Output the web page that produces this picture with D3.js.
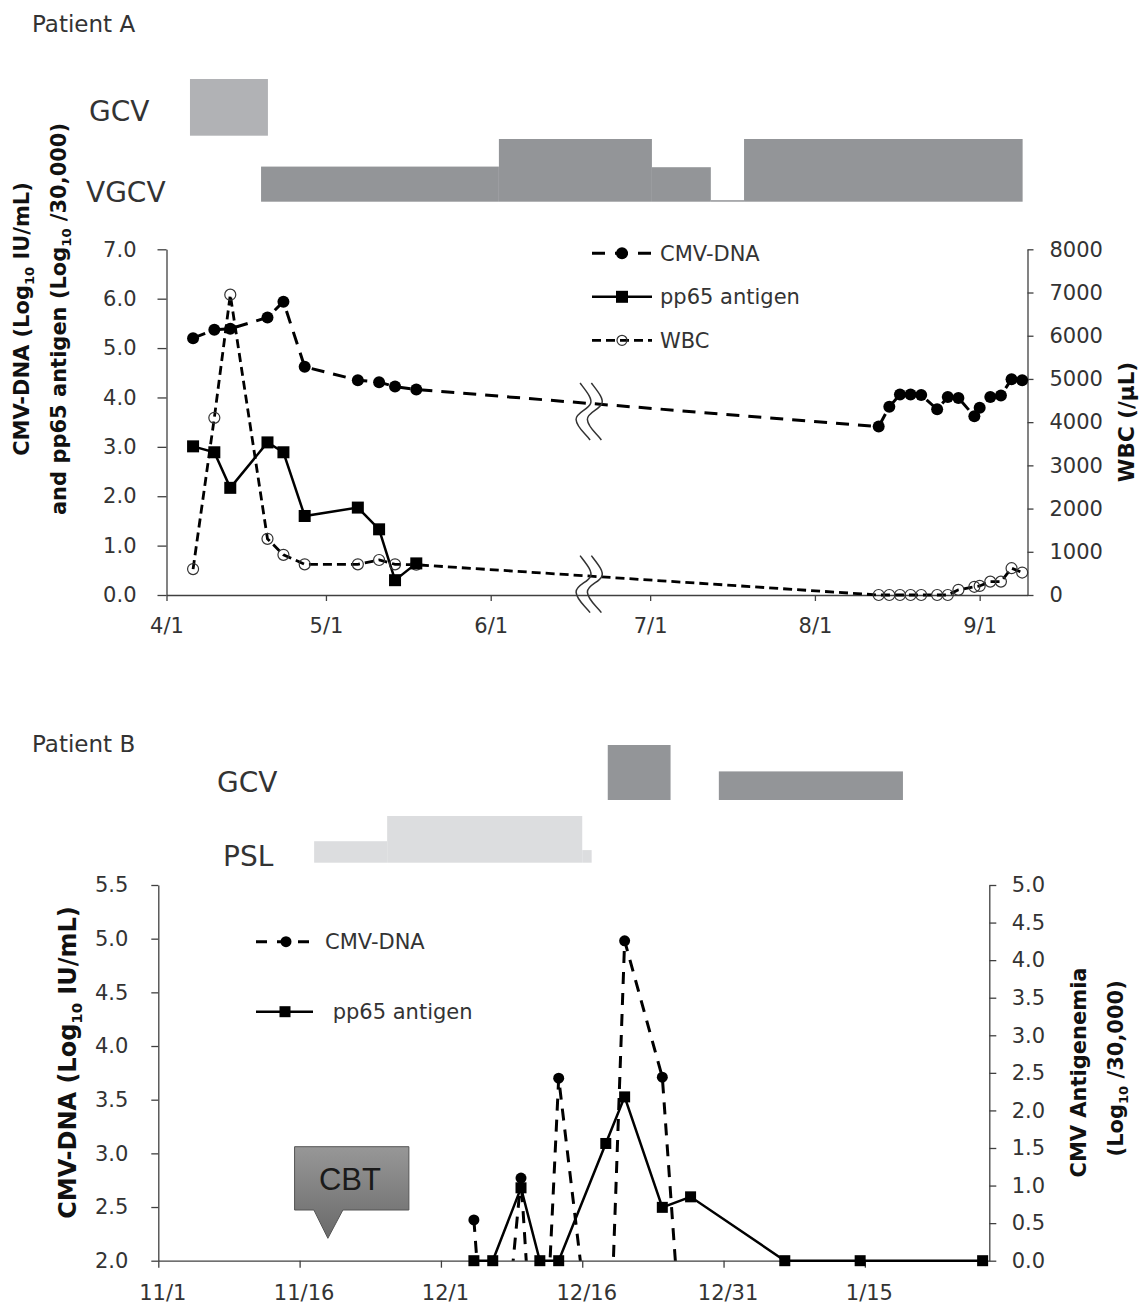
<!DOCTYPE html>
<html>
<head>
<meta charset="utf-8">
<script src="https://cdn.jsdelivr.net/npm/d3@7"></script>
<style>
  body { margin: 0; background: #fff; }
  svg text { font-family: "DejaVu Sans", Verdana, sans-serif; fill: #333; }
  svg text.title { font-weight: bold; fill: #111; }
</style>
</head>
<body>
<svg width="1148" height="1306"></svg>
<script>
//* ---------- Patient A data ----------
const aEarlyDates = ["2012-04-06", "2012-04-10", "2012-04-13", "2012-04-20", "2012-04-23",
	"2012-04-27", "2012-05-07", "2012-05-11", "2012-05-14", "2012-05-18"];
const aLateDates = ["2012-08-13", "2012-08-15", "2012-08-17", "2012-08-19", "2012-08-21",
	"2012-08-24", "2012-08-26", "2012-08-28", "2012-08-31", "2012-09-01", "2012-09-03",
	"2012-09-05", "2012-09-07", "2012-09-09"];
const aCmv = [5.2, 5.37, 5.39, 5.62, 5.94, 4.62, 4.35, 4.31, 4.22, 4.16,
	3.41, 3.81, 4.06, 4.06, 4.05, 3.76, 4.01, 3.99, 3.62, 3.79, 4.01, 4.04, 4.37, 4.35];
const aPp65 = [3.01, 2.89, 2.17, 3.09, 2.89, 1.6, 1.77, 1.33, 0.3, 0.64];
const aWbc = [600, 4100, 6950, 1300, 930, 710, 710, 810, 710, 700,
	0, 0, 0, 0, 0, 0, 0, 120, 190, 210, 310, 310, 620, 520];
const aTicksX = ["2012-04-01", "2012-05-01", "2012-06-01", "2012-07-01", "2012-08-01", "2012-09-01"];
const aTicksL = [0, 1, 2, 3, 4, 5, 6, 7];
const aTicksR = [0, 1000, 2000, 3000, 4000, 5000, 6000, 7000, 8000];
const aGcv = [{ start: "2012-04-05 10:00", end: "2012-04-20 02:00", dose: 1 }];
const aVgcv = [
	{ start: "2012-04-18 19:00", end: "2012-06-02 13:00", dose: 0.56 },
	{ start: "2012-06-02 13:00", end: "2012-07-01 08:00", dose: 1 },
	{ start: "2012-07-01 08:00", end: "2012-07-12 10:00", dose: 0.55 },
	{ start: "2012-07-12 10:00", end: "2012-07-18 16:00", dose: 0 },
	{ start: "2012-07-18 16:00", end: "2012-09-09 02:00", dose: 1 },
];
const aBreakDate = "2012-06-19 19:00";

//* ---------- Patient B data ----------
const bDates = ["2011-12-04", "2011-12-06", "2011-12-09", "2011-12-11", "2011-12-13", "2011-12-18",
	"2011-12-20", "2011-12-24", "2011-12-27", "2012-01-06", "2012-01-14", "2012-01-27"];
const bCmv = [2.38, 0, 2.77, 0, 3.7, 0, 4.98, 3.71, 0, 0, 0, 0];
const bPp65 = [0, 0, 0.97, 0, 0, 1.56, 2.18, 0.71, 0.85, 0, 0, 0];
const bTicksX = ["2011-11-01", "2011-11-16", "2011-12-01", "2011-12-16", "2011-12-31", "2012-01-15"];
const bTicksL = [2, 2.5, 3, 3.5, 4, 4.5, 5, 5.5];
const bTicksR = [0, 0.5, 1, 1.5, 2, 2.5, 3, 3.5, 4, 4.5, 5];
const bGcv = [
	{ start: "2011-12-18 17:00", end: "2011-12-25 09:00", dose: 1 },
	{ start: "2011-12-30 12:00", end: "2012-01-19 01:00", dose: 0.52 },
];
const bPsl = [
	{ start: "2011-11-17 13:00", end: "2011-11-25 07:00", dose: 0.46 },
	{ start: "2011-11-25 07:00", end: "2011-12-16 00:00", dose: 1 },
	{ start: "2011-12-16 00:00", end: "2011-12-17 00:00", dose: 0.27 },
];
const cbtDate = "2011-11-18 12:00";

//* ---------- helpers ----------
const parseDay = d3.timeParse("%Y-%m-%d"),
	parseHour = d3.timeParse("%Y-%m-%d %H:%M");
const toDate = (s) => (s.length > 10 ? parseHour(s) : parseDay(s));
const svg = d3.select("svg");

function drawBars(rows, x, baseline, full, color) {
	const h = d3.scaleLinear().domain([0, 1]).range([0, full]);
	svg.append("g")
		.selectAll("rect")
		.data(rows)
		.join("rect")
		.attr("x", (d) => x(toDate(d.start)))
		.attr("width", (d) => x(toDate(d.end)) - x(toDate(d.start)))
		.attr("y", (d) => baseline - Math.max(h(d.dose), 1.5))
		.attr("height", (d) => Math.max(h(d.dose), 1.5))
		.attr("fill", color);
}

function label(x, y, txt, size) {
	svg.append("text").attr("x", x).attr("y", y).style("font-size", size + "px").text(txt);
}

// rotated title with a subscript "10"
function title(x, y, parts, size) {
	const t = svg.append("text")
		.attr("class", "title")
		.attr("text-anchor", "middle")
		.attr("transform", `translate(${x},${y}) rotate(-90)`)
		.style("font-size", size + "px");
	parts.forEach((p) => {
		if (p.sub) {
			t.append("tspan").attr("dy", size * 0.25).style("font-size", size * 0.62 + "px").text(p.sub);
		} else {
			t.append("tspan").attr("dy", p.after ? -size * 0.25 : 0).text(p.text);
		}
	});
}

function styleAxis(g, size) {
	g.attr("font-size", size);
	g.select(".domain").attr("stroke", "#404040").attr("stroke-width", 1.3);
	g.selectAll(".tick line").attr("stroke", "#404040").attr("stroke-width", 1.3);
	g.selectAll(".tick text").attr("fill", "#333");
}

function squares(data, x, y, size) {
	svg.append("g")
		.selectAll("rect")
		.data(data)
		.join("rect")
		.attr("x", (d) => x(d) - size / 2)
		.attr("y", (d) => y(d) - size / 2)
		.attr("width", size)
		.attr("height", size)
		.attr("fill", "#000");
}

//* ======================= Patient A =======================
const xA = d3.scaleTime().domain([toDate("2012-04-01"), toDate("2012-09-10")]).range([166.5, 1027.5]);
const yA = d3.scaleLinear().domain([0, 7]).range([595, 249.3]);
const yAw = d3.scaleLinear().domain([0, 8000]).range([595, 249.3]);

label(32, 31.5, "Patient A", 23);
label(89, 120.5, "GCV", 28);
label(86, 201.5, "VGCV", 28);
drawBars(aGcv, xA, 135.7, 56.7, "#b1b2b5");
drawBars(aVgcv, xA, 201.7, 62.7, "#939598");

const aAll = aEarlyDates.concat(aLateDates).map(toDate);
const cmvA = aAll.map((d, i) => ({ date: d, v: aCmv[i] }));
const wbcA = aAll.map((d, i) => ({ date: d, v: aWbc[i] }));
const pp65A = aEarlyDates.map((s, i) => ({ date: toDate(s), v: aPp65[i] }));

svg.append("g").attr("transform", "translate(0,595)")
	.call(d3.axisBottom(xA).tickValues(aTicksX.map(toDate)).tickFormat(d3.timeFormat("%-m/%-d"))
		.tickSize(6).tickPadding(17).tickSizeOuter(0))
	.call((g) => styleAxis(g, 21));
svg.append("g").attr("transform", "translate(166.5,0)")
	.call(d3.axisLeft(yA).tickValues(aTicksL).tickFormat(d3.format(".1f")).tickSize(9).tickPadding(21).tickSizeOuter(0))
	.call((g) => styleAxis(g, 21));
svg.append("g").attr("transform", "translate(1027.5,0)")
	.call(d3.axisRight(yAw).tickValues(aTicksR).tickFormat(d3.format("d")).tickSize(6).tickPadding(16).tickSizeOuter(0))
	.call((g) => styleAxis(g, 21));

title(29, 319, [{ text: "CMV-DNA (Log" }, { sub: "10" }, { text: " IU/mL)", after: true }], 21);
title(66, 319, [{ text: "and pp65 antigen (Log" }, { sub: "10" }, { text: " /30,000)", after: true }], 21);
title(1134, 422, [{ text: "WBC (/μL)" }], 21.5);

const lineA = (y) => d3.line().x((d) => xA(d.date)).y((d) => y(d.v));
svg.append("path").datum(wbcA).attr("d", lineA(yAw)).attr("fill", "none")
	.attr("stroke", "#000").attr("stroke-width", 2.8).attr("stroke-dasharray", "9,5");
svg.append("path").datum(cmvA).attr("d", lineA(yA)).attr("fill", "none")
	.attr("stroke", "#000").attr("stroke-width", 3).attr("stroke-dasharray", "13,9");
svg.append("path").datum(pp65A).attr("d", lineA(yA)).attr("fill", "none")
	.attr("stroke", "#000").attr("stroke-width", 2.5);

svg.append("g").selectAll("circle").data(wbcA).join("circle")
	.attr("cx", (d) => xA(d.date)).attr("cy", (d) => yAw(d.v)).attr("r", 5.5)
	.attr("fill", "none").attr("stroke", "#333").attr("stroke-width", 1.2);
svg.append("g").selectAll("circle").data(cmvA).join("circle")
	.attr("cx", (d) => xA(d.date)).attr("cy", (d) => yA(d.v)).attr("r", 6).attr("fill", "#000");
squares(pp65A, (d) => xA(d.date), (d) => yA(d.v), 12);

//* axis-break marks sitting on the two long connecting lines
const breakPath = "M -10.5,-20.5 C -4,-12 2,-5 0,0 C -2,6 -15,9 -14.5,16 C -14,24 -5,30 -0.5,36.5";
function yAtDate(series, y, date) {
	const i = d3.bisector((d) => d.date).left(series, date);
	const a = series[i - 1], b = series[i];
	const t = (date - a.date) / (b.date - a.date);
	return y(a.v) + t * (y(b.v) - y(a.v));
}
const bd = toDate(aBreakDate);
[yAtDate(cmvA, yA, bd), yAtDate(wbcA, yAw, bd)].forEach((by) => {
	[0, 11.3].forEach((dx) => {
		svg.append("path").attr("d", breakPath)
			.attr("transform", `translate(${xA(bd) + dx},${by})`)
			.attr("fill", "none").attr("stroke", "#333").attr("stroke-width", 1.5);
	});
});

//* legend A
const legA = [
	{ name: "CMV-DNA", dash: "13,10", w: 3, mark: "dot" },
	{ name: "pp65 antigen", dash: null, w: 2.5, mark: "square" },
	{ name: "WBC", dash: "9,5", w: 2.8, mark: "open" },
];
legA.forEach((l, i) => {
	const y = 253.3 + i * 43.5;
	svg.append("line").attr("x1", 592).attr("x2", 652).attr("y1", y).attr("y2", y)
		.attr("stroke", "#000").attr("stroke-width", l.w).attr("stroke-dasharray", l.dash);
	if (l.mark === "dot") svg.append("circle").attr("cx", 622).attr("cy", y).attr("r", 6).attr("fill", "#000");
	if (l.mark === "square") svg.append("rect").attr("x", 616).attr("y", y - 6).attr("width", 12).attr("height", 12);
	if (l.mark === "open") svg.append("circle").attr("cx", 622).attr("cy", y).attr("r", 5)
		.attr("fill", "none").attr("stroke", "#333").attr("stroke-width", 1.2);
	svg.append("text").attr("x", 660).attr("y", y).attr("dy", "0.36em").style("font-size", "21px").text(l.name);
});

//* ======================= Patient B =======================
const xB = d3.scaleTime().domain([toDate("2011-11-01"), toDate("2012-01-28 05:00")]).range([158.3, 989.3]);
const yB = d3.scaleLinear().domain([2, 5.5]).range([1260.7, 885]);
const yBr = d3.scaleLinear().domain([0, 5]).range([1260.7, 885]);
// measurement days sit in the middle of their day slot
const xMid = (d) => xB(d3.timeHour.offset(d, 12));

label(32, 752, "Patient B", 23);
label(217, 792, "GCV", 28);
label(223, 866, "PSL", 28);
drawBars(bGcv, xB, 800, 55, "#939598");
drawBars(bPsl, xB, 862.7, 46.7, "#dcdddf");

const cmvB = bDates.map((s, i) => ({ date: toDate(s), v: bCmv[i] }));
const pp65B = bDates.map((s, i) => ({ date: toDate(s), v: bPp65[i] }));

svg.append("g").attr("transform", "translate(0,1260.7)")
	.call(d3.axisBottom(xB).tickValues(bTicksX.map(toDate)).tickFormat(d3.timeFormat("%-m/%-d"))
		.tickSize(7).tickPadding(17.4).tickSizeOuter(0))
	.call((g) => styleAxis(g, 21))
	.call((g) => g.selectAll(".tick text").attr("dx", 4));
svg.append("g").attr("transform", "translate(158.3,0)")
	.call(d3.axisLeft(yB).tickValues(bTicksL).tickFormat(d3.format(".1f")).tickSize(7).tickPadding(23).tickSizeOuter(0))
	.call((g) => styleAxis(g, 21));
svg.append("g").attr("transform", "translate(989.3,0)")
	.call(d3.axisRight(yBr).tickValues(bTicksR).tickFormat(d3.format(".1f")).tickSize(7).tickPadding(15.4).tickSizeOuter(0))
	.call((g) => styleAxis(g, 21));

title(76, 1062.5, [{ text: "CMV-DNA (Log" }, { sub: "10" }, { text: " IU/mL)", after: true }], 24);
title(1085.5, 1072.5, [{ text: "CMV Antigenemia" }], 21);
title(1123, 1068.3, [{ text: "(Log" }, { sub: "10" }, { text: "  /30,000)", after: true }], 21);

// undetectable DNA values fall below the axis; clip them to the plot area
svg.append("clipPath").attr("id", "clipB").append("rect")
	.attr("x", 158.3).attr("y", 870).attr("width", 831).attr("height", 1260.7 - 870);
const gClip = svg.append("g").attr("clip-path", "url(#clipB)");
gClip.append("path").datum(cmvB)
	.attr("d", d3.line().x((d) => xMid(d.date)).y((d) => yB(d.v)))
	.attr("fill", "none").attr("stroke", "#000").attr("stroke-width", 3).attr("stroke-dasharray", "12,9");
gClip.selectAll("circle").data(cmvB).join("circle")
	.attr("cx", (d) => xMid(d.date)).attr("cy", (d) => yB(d.v)).attr("r", 5.5).attr("fill", "#000");

svg.append("path").datum(pp65B)
	.attr("d", d3.line().x((d) => xMid(d.date)).y((d) => yBr(d.v)))
	.attr("fill", "none").attr("stroke", "#000").attr("stroke-width", 2.5);
squares(pp65B, (d) => xMid(d.date), (d) => yBr(d.v), 11);

//* legend B
svg.append("line").attr("x1", 256).attr("x2", 316).attr("y1", 941.7).attr("y2", 941.7)
	.attr("stroke", "#000").attr("stroke-width", 3).attr("stroke-dasharray", "11,10");
svg.append("circle").attr("cx", 286).attr("cy", 941.7).attr("r", 5.5).attr("fill", "#000");
svg.append("text").attr("x", 325).attr("y", 941.7).attr("dy", "0.36em").style("font-size", "21px").text("CMV-DNA");
svg.append("line").attr("x1", 256).attr("x2", 313).attr("y1", 1011.7).attr("y2", 1011.7)
	.attr("stroke", "#000").attr("stroke-width", 2.5);
svg.append("rect").attr("x", 279.5).attr("y", 1006.2).attr("width", 11).attr("height", 11);
svg.append("text").attr("x", 332.7).attr("y", 1011.7).attr("dy", "0.36em").style("font-size", "21px").text("pp65 antigen");

//* CBT callout
const grad = svg.append("defs").append("linearGradient").attr("id", "cbtGrad")
	.attr("x1", 0).attr("y1", 0).attr("x2", 0).attr("y2", 1);
grad.append("stop").attr("offset", "0%").attr("stop-color", "#979797");
grad.append("stop").attr("offset", "100%").attr("stop-color", "#6a6a6a");
const ax = xMid(toDate(cbtDate)), ay = yB.range()[0] - 22.4;
const boxTop = ay - 91.6, boxBot = ay - 28.3, boxL = ax - 33.3, boxR = ax + 81;
svg.append("path")
	.attr("d", `M${boxL},${boxTop} L${boxR},${boxTop} L${boxR},${boxBot} L${ax + 15},${boxBot} L${ax},${ay} L${ax - 14},${boxBot} L${boxL},${boxBot} Z`)
	.attr("fill", "url(#cbtGrad)").attr("stroke", "#555").attr("stroke-width", 1);
svg.append("text").attr("x", ax + 22).attr("y", boxTop + 43.5).attr("text-anchor", "middle")
	.style("font-family", "'Liberation Sans', Arial, sans-serif").style("font-size", "31px").style("fill", "#1a1a1a")
	.text("CBT");
</script>
</body>
</html>
